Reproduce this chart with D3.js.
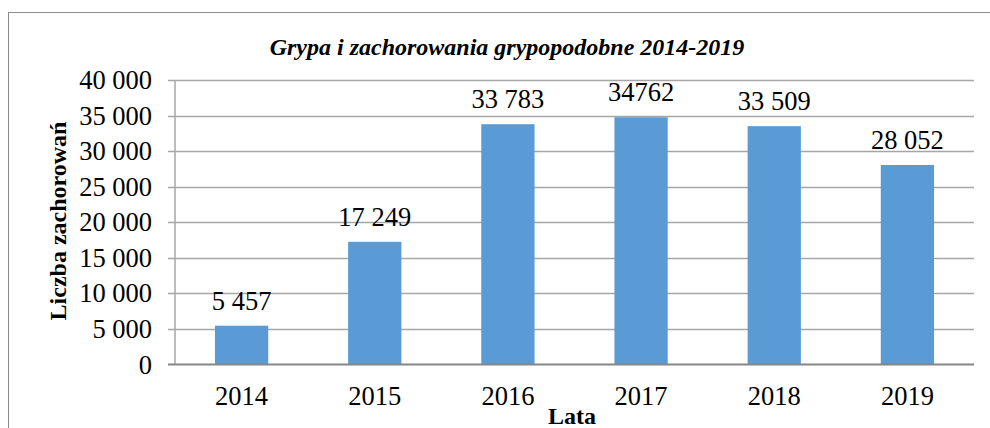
<!DOCTYPE html>
<html>
<head>
<meta charset="utf-8">
<script src="https://cdn.jsdelivr.net/npm/d3@7"></script>
<style>
    body { margin: 0; background: #fff; }
    svg text { font-family: "Liberation Serif", "Times New Roman", serif; fill: #000; }
</style>
</head>
<body>
<div id="chart"></div>
<script>
// Data
let years = ["2014", "2015", "2016", "2017", "2018", "2019"];
let cases = [5457, 17249, 33783, 34762, 33509, 28052];
let valueLabels = ["5 457", "17 249", "33 783", "34762", "33 509", "28 052"];
let yTicks = [0, 5000, 10000, 15000, 20000, 25000, 30000, 35000, 40000];

let width = 990;
let height = 428;
let plotLeft = 175, plotRight = 974, plotTop = 80, plotBottom = 364.5;
let barColor = "#5B9BD5";
let gridColor = "#A6A6A6";

let svg = d3.select("#chart")
    .append("svg")
    .attr("width", width)
    .attr("height", height)
    .attr("font-family", "'Liberation Serif', 'Times New Roman', serif");

// outer chart border (runs off the page on right and bottom)
svg.append("rect")
    .attr("x", 8.5)
    .attr("y", 12.5)
    .attr("width", 1000)
    .attr("height", 500)
    .attr("fill", "none")
    .attr("stroke", "#8c8c8c")
    .attr("stroke-width", 1);

let xScale = d3.scaleBand()
    .domain(years)
    .range([plotLeft, plotRight])
    .paddingInner(0.6)
    .paddingOuter(0.3);

let yScale = d3.scaleLinear()
    .domain([0, 40000])
    .range([plotBottom, plotTop]);

// thousands with space separator
let fmt = function (v) {
    return d3.format(",")(v).replace(/,/g, " ");
};

// gridlines
svg.append("g")
    .selectAll("line")
    .data(yTicks.filter(function (d) { return d > 0; }))
    .enter()
    .append("line")
    .attr("x1", plotLeft - 7)
    .attr("x2", plotRight)
    .attr("y1", function (d) { return Math.round(yScale(d)) + 0.5; })
    .attr("y2", function (d) { return Math.round(yScale(d)) + 0.5; })
    .attr("stroke", gridColor)
    .attr("stroke-width", 1.5);

// bars
svg.selectAll(".bar")
    .data(cases)
    .enter()
    .append("rect")
    .attr("class", "bar")
    .attr("x", function (d, i) { return xScale(years[i]); })
    .attr("y", function (d) { return yScale(d); })
    .attr("width", xScale.bandwidth())
    .attr("height", function (d) { return plotBottom - yScale(d); })
    .attr("fill", barColor);

// y axis line and baseline
svg.append("line")
    .attr("x1", plotLeft).attr("x2", plotLeft)
    .attr("y1", plotTop).attr("y2", plotBottom)
    .attr("stroke", gridColor)
    .attr("stroke-width", 1.5);

svg.append("line")
    .attr("x1", plotLeft - 7).attr("x2", plotRight)
    .attr("y1", plotBottom).attr("y2", plotBottom)
    .attr("stroke", "#868686")
    .attr("stroke-width", 2);

// y tick labels
svg.append("g")
    .selectAll("text")
    .data(yTicks)
    .enter()
    .append("text")
    .attr("x", plotLeft - 23)
    .attr("y", function (d) { return yScale(d) + 9; })
    .attr("text-anchor", "end")
    .style("font-size", "26.5px")
    .text(fmt);

// x tick labels
svg.append("g")
    .selectAll("text")
    .data(years)
    .enter()
    .append("text")
    .attr("x", function (d) { return xScale(d) + xScale.bandwidth() / 2; })
    .attr("y", 405)
    .attr("text-anchor", "middle")
    .style("font-size", "26.5px")
    .text(function (d) { return d; });

// value labels above bars
svg.append("g")
    .selectAll("text")
    .data(cases)
    .enter()
    .append("text")
    .attr("x", function (d, i) { return xScale(years[i]) + xScale.bandwidth() / 2; })
    .attr("y", function (d) { return yScale(d) - 16; })
    .attr("text-anchor", "middle")
    .style("font-size", "26.5px")
    .text(function (d, i) { return valueLabels[i]; });

// title
svg.append("text")
    .attr("x", 507)
    .attr("y", 55)
    .attr("text-anchor", "middle")
    .style("font-size", "24px")
    .style("font-weight", "bold")
    .style("font-style", "italic")
    .text("Grypa i zachorowania grypopodobne 2014-2019");

// axis titles
svg.append("text")
    .attr("transform", "translate(66,221) rotate(-90)")
    .attr("text-anchor", "middle")
    .style("font-size", "24px")
    .style("font-weight", "bold")
    .text("Liczba zachorowań");

svg.append("text")
    .attr("x", 572)
    .attr("y", 424)
    .attr("text-anchor", "middle")
    .style("font-size", "24px")
    .style("font-weight", "bold")
    .text("Lata");
</script>
</body>
</html>
